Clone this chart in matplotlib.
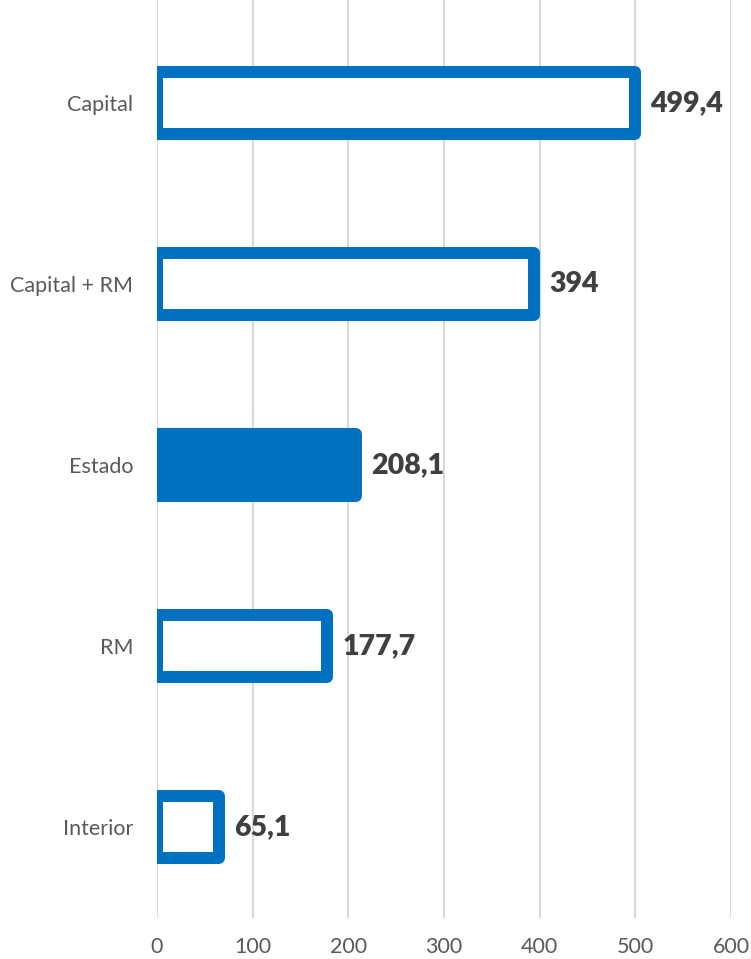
import matplotlib.pyplot as plt

plt.rcParams['font.family'] = ['Lato', 'DejaVu Sans']

categorias = ['Capital', 'Capital + RM', 'Estado', 'RM', 'Interior']
valores = [499.4, 394, 208.1, 177.7, 65.1]
rotulos = ['499,4', '394', '208,1', '177,7', '65,1']
preenchido = [False, False, True, False, False]

azul = '#0070C0'

fig = plt.figure(figsize=(7.51, 9.59), dpi=100)
ax = fig.add_axes([157 / 751, 1 - 918 / 959, (731 - 157) / 751, 918 / 959])

pos = list(range(len(categorias)))
for i, (v, cheio) in enumerate(zip(valores, preenchido)):
    ax.barh(pos[i], v, height=0.343,
            facecolor=azul if cheio else 'white',
            edgecolor=azul, linewidth=8.6, joinstyle='round', zorder=3)
    ax.annotate(rotulos[i], (v, pos[i]), xytext=(11, 0), textcoords='offset points',
                ha='left', va='center', fontsize=20.5, fontweight='heavy',
                color='#404040', zorder=4)

ax.set_xlim(0, 600)
ax.set_ylim(4.503, -0.569)
ax.set_xticks(range(0, 601, 100))
ax.set_yticks(pos)
ax.set_yticklabels(categorias)

ax.grid(axis='x', color='#D9D9D9', linewidth=1.5, zorder=0)
ax.grid(axis='y', visible=False)
for s in ax.spines.values():
    s.set_visible(False)
ax.tick_params(axis='both', length=0, labelsize=15.5, labelcolor='#595959')
ax.tick_params(axis='y', pad=17)
ax.tick_params(axis='x', pad=14)

fig.savefig('out.png', dpi=100)
